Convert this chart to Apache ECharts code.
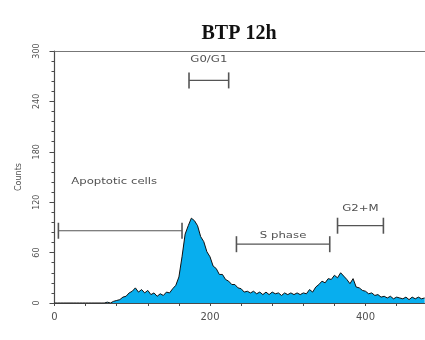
<!DOCTYPE html>
<html>
<head>
<meta charset="utf-8">
<script src="https://cdn.jsdelivr.net/npm/echarts@6/dist/echarts.min.js"></script>
<style>
  html, body { margin: 0; padding: 0; background: #fff; }
  #chart { width: 425px; height: 340px; }
</style>
</head>
<body>
<div id="chart"></div>
<script>
// DNA content histogram: counts per channel bin (bin width 4, starting at channel 0)
const binWidth = 4;
const counts = [
  0, 0, 0, 0, 0, 0, 0, 0, 0, 0, 0, 0, 0, 0, 0, 0,
  0, 1, 0, 2, 3, 4, 7, 8, 12, 14, 18, 13, 16, 12, 15, 10,
  12, 8, 11, 9, 13, 12, 17, 21, 31, 55, 82, 92, 101, 98, 92, 79,
  73, 61, 55, 44, 41, 34, 34, 28, 26, 22, 22, 18, 17, 13, 14, 12,
  14, 11, 13, 10, 13, 10, 13, 11, 12, 9, 12, 10, 12, 10, 12, 10,
  12, 11, 16, 13, 19, 22, 26, 24, 29, 28, 33, 30, 36, 32, 28, 23,
  29, 19, 18, 15, 14, 11, 12, 9, 10, 7, 8, 6, 8, 5, 7, 6,
  5, 7, 4, 7, 5, 7, 5, 6
];
const channels = counts.map((_, i) => i * binWidth);

// Cell-cycle gates: channel range and the count level where each marker sits
const gateNames = ['Apoptotic cells', 'G0/G1', 'S phase', 'G2+M'];
const gateStart = [5, 173, 234, 364];
const gateEnd = [164, 224, 354, 423];
const gateLevel = [86, 265, 70, 92];

// Axis ticks
const xTickValues = [0, 40, 80, 120, 160, 200, 240, 280, 320, 360, 400, 440];
const xLabelValues = [0, 200, 400];
const yTickValues = [0, 60, 120, 180, 240, 300];

// Label placement for each gate marker: [horizontal shift, lift above the bar] in px
const gateLabelPlacement = {
  'Apoptotic cells': [-6, 49],
  'G0/G1': [0, 21],
  'S phase': [0, 9],
  'G2+M': [0, 17]
};

const histData = channels.map((c, i) => [c, counts[i]]);
const gateData = gateNames.map((n, i) => [gateStart[i], gateEnd[i], gateLevel[i]]);

const axisGrey = '#4a4a4a';
const textGrey = '#505050';

const chart = echarts.init(document.getElementById('chart'), null, { renderer: 'canvas' });

chart.setOption({
  backgroundColor: '#ffffff',
  animation: false,
  title: {
    text: 'BTP 12h',
    left: 234,
    top: 19,
    textAlign: 'center',
    textStyle: {
      fontFamily: 'Liberation Serif',
      fontWeight: 'bold',
      fontSize: 20,
      color: '#111'
    }
  },
  grid: { left: 51, right: 0, top: 51, bottom: 37 },
  xAxis: [
    {
      type: 'value',
      min: -4.5,
      max: 476.5,
      axisLine: { show: true, lineStyle: { color: axisGrey, width: 1.2 } },
      axisTick: {
        show: true,
        customValues: xTickValues,
        length: 3,
        lineStyle: { color: axisGrey }
      },
      axisLabel: {
        customValues: xLabelValues,
        margin: 9,
        fontFamily: 'DejaVu Sans',
        fontSize: 10,
        color: textGrey
      },
      splitLine: { show: false }
    },
    {
      type: 'value',
      position: 'top',
      min: -4.5,
      max: 476.5,
      axisLine: { show: true, lineStyle: { color: '#777', width: 1.2 } },
      axisTick: { show: false },
      axisLabel: { show: false },
      splitLine: { show: false }
    }
  ],
  yAxis: {
    type: 'value',
    min: 0,
    max: 300,
    interval: 60,
    name: 'Counts',
    nameLocation: 'middle',
    nameGap: 28,
    nameTextStyle: { fontFamily: 'DejaVu Sans', fontSize: 8, color: textGrey },
    axisLine: { show: true, lineStyle: { color: axisGrey, width: 1.2 } },
    axisTick: { show: true, length: 5, lineStyle: { color: axisGrey } },
    minorTick: { show: true, splitNumber: 5, length: 3, lineStyle: { color: axisGrey } },
    axisLabel: {
      rotate: 90,
      margin: 10,
      fontFamily: 'DejaVu Sans',
      fontSize: 8,
      color: textGrey,
      formatter: function (v) { return yTickValues.indexOf(v) >= 0 ? String(v) : ''; }
    },
    splitLine: { show: false }
  },
  series: [
    {
      name: 'Counts',
      type: 'line',
      data: histData,
      showSymbol: false,
      smooth: false,
      lineStyle: { color: '#101010', width: 1 },
      areaStyle: { color: '#08aeee', opacity: 1 },
      z: 2
    },
    {
      name: 'Gates',
      type: 'custom',
      data: gateData,
      encode: { x: [0, 1], y: 2 },
      z: 3,
      renderItem: function (params, api) {
        const a = api.coord([api.value(0), api.value(2)]);
        const b = api.coord([api.value(1), api.value(2)]);
        const name = gateNames[params.dataIndex];
        const place = gateLabelPlacement[name];
        const cap = 8;
        const stroke = '#555555';
        return {
          type: 'group',
          children: [
            { type: 'line', shape: { x1: a[0], y1: a[1], x2: b[0], y2: b[1] }, style: { stroke: stroke, lineWidth: 1.2 } },
            { type: 'line', shape: { x1: a[0], y1: a[1] - cap, x2: a[0], y2: a[1] + cap }, style: { stroke: stroke, lineWidth: 1.6 } },
            { type: 'line', shape: { x1: b[0], y1: b[1] - cap, x2: b[0], y2: b[1] + cap }, style: { stroke: stroke, lineWidth: 1.6 } },
            {
              type: 'text',
              x: (a[0] + b[0]) / 2 + place[0],
              y: a[1] - place[1],
              scaleX: 1.3,
              style: {
                text: name,
                fill: textGrey,
                font: '9px "DejaVu Sans"',
                align: 'center',
                verticalAlign: 'middle'
              }
            }
          ]
        };
      }
    }
  ]
});
</script>
</body>
</html>
